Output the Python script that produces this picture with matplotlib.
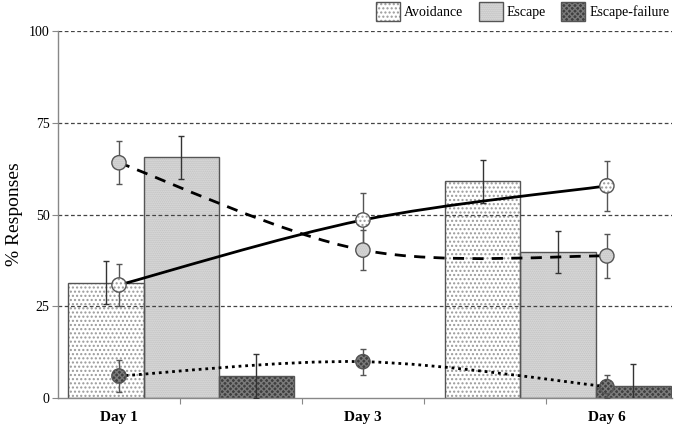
import numpy as np
import matplotlib
matplotlib.use("Agg")
import matplotlib.pyplot as plt
from matplotlib.path import Path
from matplotlib.patches import PathPatch, Patch

# values
days = ["Day 1", "Day 3", "Day 6"]
series = ["Avoidance", "Escape", "Escape-failure"]

# bars: Day 1 and Day 6 only
bar_avoid = [31.4, 59.0]
bar_escape = [65.6, 39.8]
bar_fail = [6.0, 3.4]
bar_avoid_err = [5.9, 5.8]
bar_escape_err = [5.8, 5.8]
bar_fail_err = [6.0, 6.0]

# smoothed lines with markers at Day 1, Day 3, Day 6
line_avoid = [30.8, 48.5, 57.8]
line_escape = [64.1, 40.3, 38.7]
line_fail = [6.0, 9.9, 3.1]
line_avoid_err = [5.6, 7.3, 6.8]
line_escape_err = [5.9, 5.4, 5.9]
line_fail_err = [4.3, 3.5, 3.2]

plt.rcParams["font.family"] = ["Liberation Serif", "DejaVu Serif"]
plt.rcParams["hatch.linewidth"] = 1.0

EDGE = "#555555"
styles = {
    "Avoidance": dict(face="white", hatch="....", hcolor="#9a9a9a"),
    "Escape": dict(face="#bdbdbd", hatch="........", hcolor="#e6e6e6"),
    "Escape-failure": dict(face="#3f3f3f", hatch="xxxxxx", hcolor="#7a7a7a"),
}


def smooth_path(xs, ys):
    """Excel-like smoothed line: cubic Bezier through the points."""
    pts = np.column_stack([xs, ys]).astype(float)
    n = len(pts)
    verts = [pts[0]]
    codes = [Path.MOVETO]
    for i in range(n - 1):
        p0 = pts[max(i - 1, 0)]
        p1, p2 = pts[i], pts[i + 1]
        p3 = pts[min(i + 2, n - 1)]
        verts += [p1 + (p2 - p0) / 6, p2 - (p3 - p1) / 6, p2]
        codes += [Path.CURVE4] * 3
    return Path(verts, codes)


fig = plt.figure(figsize=(6.75, 4.26), dpi=100)
ax = fig.add_axes([58 / 675, 28 / 426, 613.5 / 675, 367 / 426])

day_x = np.array([0.5, 2.5, 4.5])
group_x = np.array([1.01, 4.10])
width = 0.617

bar_sets = [(bar_avoid, bar_avoid_err, "Avoidance"),
            (bar_escape, bar_escape_err, "Escape"),
            (bar_fail, bar_fail_err, "Escape-failure")]
for k, (vals, errs, name) in enumerate(bar_sets):
    st = styles[name]
    xs = group_x + (k - 1) * width
    ax.bar(xs, vals, width, color=st["face"], hatch=st["hatch"],
           edgecolor=st["hcolor"], linewidth=0, zorder=1)
    ax.bar(xs, vals, width, fill=False, edgecolor=EDGE, linewidth=1.0, zorder=1.5)
    ax.errorbar(xs, vals, yerr=errs, fmt="none", ecolor="#333333",
                elinewidth=1.0, capsize=2.5, capthick=1.0, zorder=3)

# gridlines drawn over the bars
for y in [25, 50, 75, 100]:
    ax.axhline(y, color="#444444", linewidth=0.9, linestyle=(0, (3, 2)), zorder=2)

line_sets = [(line_avoid, line_avoid_err, "Avoidance", "-"),
             (line_escape, line_escape_err, "Escape", (0, (4, 3))),
             (line_fail, line_fail_err, "Escape-failure", (0, (1, 1.4)))]
for vals, errs, name, ls in line_sets:
    st = styles[name]
    ax.add_patch(PathPatch(smooth_path(day_x, vals), fill=False, edgecolor="black",
                           linewidth=2.0, linestyle=ls, capstyle="butt", zorder=4))
    ax.errorbar(day_x, vals, yerr=errs, fmt="none", ecolor="#555555",
                elinewidth=1.0, capsize=2.5, capthick=1.0, zorder=4.5)
    ax.scatter(day_x, vals, s=106, c=st["face"], hatch=st["hatch"],
               edgecolors=st["hcolor"], linewidths=0, zorder=5)
    ax.scatter(day_x, vals, s=106, facecolors="none", edgecolors=EDGE,
               linewidths=1.0, zorder=5.5)

ax.set_xlim(0, 5.03)
ax.set_ylim(0, 100)
ax.set_yticks([0, 25, 50, 75, 100])
ax.tick_params(axis="y", labelsize=10, length=4, color="#888888", pad=2)
ax.set_xticks([1, 2, 3, 4])
ax.set_xticklabels([])
ax.tick_params(axis="x", which="major", length=4, color="#888888")
ax.set_xticks(day_x, minor=True)
ax.set_xticklabels(days, minor=True, fontsize=11, fontweight="bold")
ax.tick_params(axis="x", which="minor", length=0, pad=9)

for side in ["top", "right"]:
    ax.spines[side].set_visible(False)
for side in ["left", "bottom"]:
    ax.spines[side].set_color("#888888")
    ax.spines[side].set_linewidth(1.0)

ax.set_ylabel("% Responses", fontsize=14, labelpad=4)

handles = []
for name in series:
    st = styles[name]
    handles.append((Patch(facecolor=st["face"], hatch=st["hatch"],
                          edgecolor=st["hcolor"], linewidth=0),
                    Patch(fill=False, edgecolor=EDGE, linewidth=1.0)))
fig.legend(handles, series, loc="upper right", bbox_to_anchor=(0.995, 1.0),
           ncol=3, frameon=False, fontsize=10, handlelength=1.73,
           handleheight=1.73, handletextpad=0.3, columnspacing=1.1,
           borderpad=0.15, borderaxespad=0)

fig.savefig("out.png", dpi=100)
